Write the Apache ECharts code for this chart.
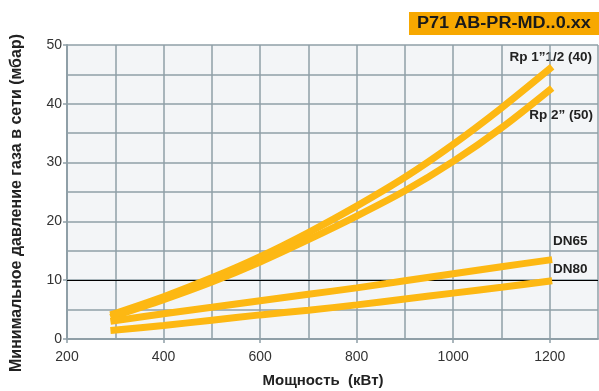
<!DOCTYPE html>
<html><head><meta charset="utf-8">
<script src="https://cdn.jsdelivr.net/npm/echarts@6/dist/echarts.min.js"></script>
<style>html,body{margin:0;padding:0;background:#fff}#c{width:599px;height:391px}</style>
</head><body><div id="c"></div>
<script>
const xTickLabels = [200, 400, 600, 800, 1000, 1200];
const yTickLabels = [0, 10, 20, 30, 40, 50];
const seriesNames = ['Rp 1\u201d1/2 (40)', 'Rp 2\u201d (50)', 'DN65', 'DN80'];
const power = [290, 400, 500, 600, 700, 800, 900, 1000, 1100, 1205];
const rp40 = [4.1, 7.2, 10.4, 14.0, 18.1, 22.6, 27.5, 33.1, 39.3, 46.3];
const rp50 = [3.7, 6.7, 9.7, 13.1, 16.9, 20.9, 25.2, 30.2, 35.9, 42.7];
const dn65 = [3.0, 4.3, 5.4, 6.5, 7.6, 8.7, 9.9, 11.1, 12.3, 13.5];
const dn80 = [1.45, 2.3, 3.2, 4.1, 4.9, 5.8, 6.8, 7.8, 8.8, 9.9];

const font = '"Liberation Sans", Arial, sans-serif';
const lineColor = '#fdb813';
const gridColor = '#8f9fa7';
const allSeries = [rp40, rp50, dn65, dn80];

const chart = echarts.init(document.getElementById('c'));
chart.setOption({
  animation: false,
  textStyle: {fontFamily: font},
  grid: {left: 67, right: 1, top: 45, bottom: 52, show: true, backgroundColor: '#f3f5f7', borderWidth: 0},
  xAxis: [{
    type: 'value', min: 200, max: 1300, interval: 100, position: 'bottom',
    axisLine: {show: true, lineStyle: {color: gridColor, width: 2}},
    axisTick: {show: false}, axisLabel: {show: false},
    splitLine: {show: true, lineStyle: {color: gridColor, width: 1.5}}
  }, {
    type: 'value', min: 200, max: 1300, position: 'bottom', offset: 0,
    axisLine: {show: false},
    axisTick: {show: true, customValues: xTickLabels, length: 4, lineStyle: {color: gridColor, width: 1.5}},
    axisLabel: {customValues: xTickLabels, fontSize: 14, color: '#333', margin: 11, formatter: v => String(v)},
    splitLine: {show: false}
  }],
  yAxis: [{
    type: 'value', min: 0, max: 50, interval: 5, position: 'left',
    axisLine: {show: true, lineStyle: {color: gridColor, width: 2}},
    axisTick: {show: false}, axisLabel: {show: false},
    splitLine: {show: true, lineStyle: {color: gridColor, width: 1.5}}
  }, {
    type: 'value', min: 0, max: 50, position: 'left', offset: 0,
    axisLine: {show: false},
    axisTick: {show: true, customValues: yTickLabels, length: 4, lineStyle: {color: gridColor, width: 1.5}},
    axisLabel: {customValues: yTickLabels, fontSize: 14, color: '#333', margin: 5},
    splitLine: {show: false}
  }],
  series: allSeries.map((vals, i) => ({
    name: seriesNames[i],
    type: 'line', smooth: 0.3, symbol: 'none',
    xAxisIndex: 0, yAxisIndex: 0,
    lineStyle: {color: lineColor, width: 7, cap: 'butt'},
    data: power.map((p, j) => [p, vals[j]]),
    z: 3,
    markLine: i === 0 ? {
      silent: true, symbol: 'none', label: {show: false},
      lineStyle: {color: '#000', width: 1, type: 'solid'},
      data: [{yAxis: 10}], z: 2
    } : undefined
  })),
  graphic: [
    {type: 'rect', shape: {x: 409, y: 12, width: 190, height: 23}, style: {fill: '#f7a800'}},
    {type: 'text', x: 417, y: 23.5, scaleX: 1.13, style: {text: 'P71 AB-PR-MD..0.xx', font: 'bold 16px ' + font, fill: '#1a1a1a', textVerticalAlign: 'middle'}},
    {type: 'text', x: 17, y: 203, rotation: Math.PI / 2, style: {text: 'Минимальное давление газа в сети (мбар)', font: 'bold 16px ' + font, fill: '#222', textAlign: 'center', textVerticalAlign: 'middle'}},
    {type: 'text', x: 323, y: 381, style: {text: 'Мощность  (кВт)', font: 'bold 15px ' + font, fill: '#222', textAlign: 'center', textVerticalAlign: 'middle'}},
    {type: 'text', x: 592, y: 57, style: {text: seriesNames[0], font: 'bold 13.5px ' + font, fill: '#222', textAlign: 'right', textVerticalAlign: 'middle'}},
    {type: 'text', x: 593, y: 115, style: {text: seriesNames[1], font: 'bold 13.5px ' + font, fill: '#222', textAlign: 'right', textVerticalAlign: 'middle'}},
    {type: 'text', x: 553, y: 241, style: {text: seriesNames[2], font: 'bold 13.5px ' + font, fill: '#222', textVerticalAlign: 'middle'}},
    {type: 'text', x: 553, y: 269, style: {text: seriesNames[3], font: 'bold 13.5px ' + font, fill: '#222', textVerticalAlign: 'middle'}}
  ]
});
</script></body></html>
